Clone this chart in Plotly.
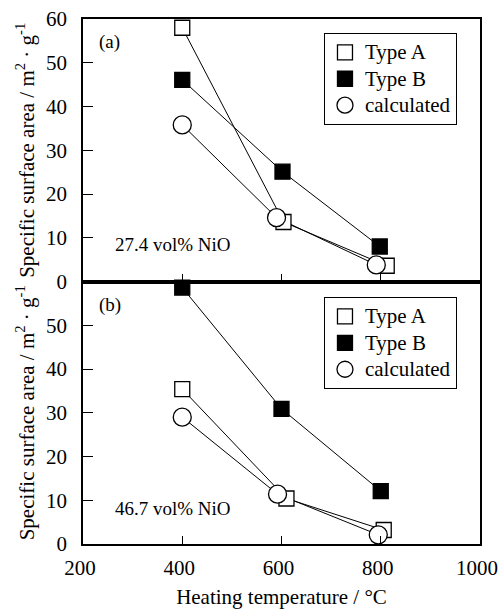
import plotly.graph_objects as go

# ---------------- data ----------------
series_names = ["Type A", "Type B", "calculated"]

# panel (a): 27.4 vol% NiO
a_typeA_x = [400, 604, 812]
a_typeA_y = [58.0, 13.6, 3.6]
a_typeB_x = [400, 602, 798]
a_typeB_y = [46.1, 25.1, 8.0]
a_calc_x = [400, 590, 791]
a_calc_y = [35.8, 14.6, 3.8]

# panel (b): 46.7 vol% NiO
b_typeA_x = [400, 610, 806]
b_typeA_y = [35.4, 10.4, 3.2]
b_typeB_x = [400, 600, 800]
b_typeB_y = [58.6, 30.9, 12.1]
b_calc_x = [400, 592, 795]
b_calc_y = [29.0, 11.4, 2.1]

x_ticks = [200, 400, 600, 800, 1000]
y_ticks_top = [0, 10, 20, 30, 40, 50, 60]
y_ticks_bottom = [0, 10, 20, 30, 40, 50]

FONT = "Times New Roman"
BLACK = "black"

sizes = {"Type A": 15, "Type B": 15, "calculated": 18}

fig = go.Figure()

panels = [
    ("x2", "y2", "legend", [(a_typeA_x, a_typeA_y), (a_typeB_x, a_typeB_y), (a_calc_x, a_calc_y)]),
    ("x", "y", "legend2", [(b_typeA_x, b_typeA_y), (b_typeB_x, b_typeB_y), (b_calc_x, b_calc_y)]),
]

for xa, ya, leg, data in panels:
    for name, (xs, ys) in zip(series_names, data):
        fig.add_trace(go.Scatter(x=xs, y=ys, xaxis=xa, yaxis=ya, mode="lines",
                                 line=dict(color=BLACK, width=1), showlegend=False,
                                 hoverinfo="skip", cliponaxis=False))
    for name, (xs, ys) in zip(series_names, data):
        if name == "calculated":
            mk = dict(symbol="circle", size=sizes[name], color="white",
                      line=dict(color=BLACK, width=1.3))
        elif name == "Type A":
            mk = dict(symbol="square", size=sizes[name], color="white",
                      line=dict(color=BLACK, width=1.3))
        else:
            mk = dict(symbol="square", size=sizes[name], color=BLACK,
                      line=dict(color=BLACK, width=1.3))
        fig.add_trace(go.Scatter(x=xs, y=ys, xaxis=xa, yaxis=ya, mode="markers",
                                 marker=mk, name=f'<span style="font-size:21px">{name}</span>',
                                 legend=leg, cliponaxis=False))

ytitle = "Specific surface area / m<sup>2</sup> · g<sup>-1</sup>"

axis_common = dict(showline=True, linecolor=BLACK, linewidth=1.5, mirror=True,
                   ticks="inside", tickcolor=BLACK, tickwidth=1.2,
                   showgrid=False, zeroline=False, automargin=False,
                   ticklabeloverflow="allow",
                   tickfont=dict(family=FONT, size=21, color=BLACK))

fig.update_layout(
    width=500, height=609,
    margin=dict(l=83, r=20, t=19, b=65, autoexpand=False),
    paper_bgcolor="white", plot_bgcolor="white",
    font=dict(family=FONT, size=21, color=BLACK),
    xaxis=dict(domain=[0, 1], anchor="y", range=[200, 1000], tickvals=x_ticks,
               ticklen=8, ticklabelstandoff=4, ticklabelshift=-3,
               title=dict(text="Heating temperature / °C", font=dict(family=FONT, size=21),
                          standoff=10),
               **axis_common),
    xaxis2=dict(domain=[0, 1], anchor="y2", range=[200, 1000], tickvals=x_ticks,
                matches="x", showticklabels=False, ticklen=8, **axis_common),
    yaxis=dict(domain=[0, 0.5], anchor="x", range=[0, 60], tickvals=y_ticks_bottom,
               ticklen=10, ticklabelstandoff=10,
               title=dict(text=ytitle, font=dict(family=FONT, size=21), standoff=6),
               **axis_common),
    yaxis2=dict(domain=[0.5, 1], anchor="x2", range=[0, 60], tickvals=y_ticks_top,
                ticklen=10, ticklabelstandoff=10,
                title=dict(text=ytitle, font=dict(family=FONT, size=21), standoff=6),
                **axis_common),
    legend=dict(x=0.607, y=0.973, xanchor="left", yanchor="top",
                bordercolor=BLACK, borderwidth=1, bgcolor="white",
                font=dict(family=FONT, size=18, color=BLACK), tracegroupgap=0),
    legend2=dict(x=0.607, y=0.470, xanchor="left", yanchor="top",
                 bordercolor=BLACK, borderwidth=1, bgcolor="white",
                 font=dict(family=FONT, size=18, color=BLACK), tracegroupgap=0),
    annotations=[
        dict(text="(a)", xref="x2 domain", yref="y2 domain", x=0.035, y=0.913,
             xanchor="left", yanchor="middle", showarrow=False,
             font=dict(family=FONT, size=19, color=BLACK)),
        dict(text="27.4 vol% NiO", xref="x2 domain", yref="y2 domain", x=0.075, y=0.141,
             xanchor="left", yanchor="middle", showarrow=False,
             font=dict(family=FONT, size=19, color=BLACK)),
        dict(text="(b)", xref="x domain", yref="y domain", x=0.035, y=0.912,
             xanchor="left", yanchor="middle", showarrow=False,
             font=dict(family=FONT, size=19, color=BLACK)),
        dict(text="46.7 vol% NiO", xref="x domain", yref="y domain", x=0.075, y=0.137,
             xanchor="left", yanchor="middle", showarrow=False,
             font=dict(family=FONT, size=19, color=BLACK)),
    ],
)

# remove the page's default body margin so the 500x609 figure fills the window exactly
fig.write_html("out.html",
               config={"displayModeBar": False},
               post_script="document.body.style.margin='0';document.body.style.overflow='hidden';")
